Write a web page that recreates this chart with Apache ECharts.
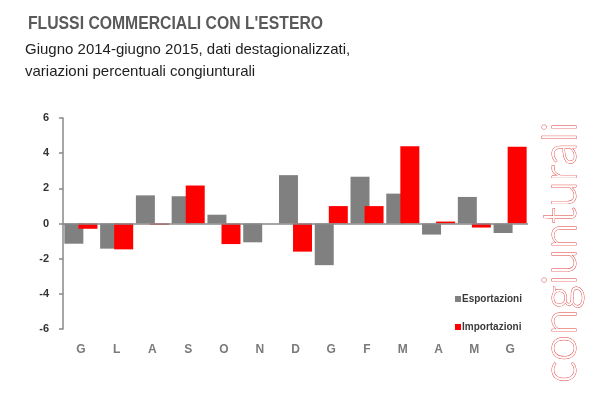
<!DOCTYPE html>
<html>
<head>
<meta charset="utf-8">
<script src="https://cdn.jsdelivr.net/npm/echarts@6/dist/echarts.min.js"></script>
<style>html,body{margin:0;padding:0;background:#fff;}#c{width:600px;height:398px;}</style>
</head>
<body>
<div id="c"></div>
<script>
var categories = ['G','L','A','S','O','N','D','G','F','M','A','M','G'];
var esportazioni = [-1.15, -1.43, 1.6, 1.55, 0.5, -1.07, 2.75, -2.37, 2.66, 1.7, -0.63, 1.51, -0.54];
var importazioni = [-0.3, -1.47, -0.07, 2.16, -1.17, 0, -1.6, 0.99, 0.99, 4.4, 0.11, -0.23, 4.36];
var yTicks = {min: -6, max: 6, interval: 2};
var seriesNames = ['Esportazioni', 'Importazioni'];

var chart = echarts.init(document.getElementById('c'), null, {renderer: 'canvas'});
chart.setOption({
  backgroundColor: '#fff',
  animation: false,
  grid: {left: 63, right: 72, top: 118, bottom: 69, containLabel: false},
  legend: {
    orient: 'vertical', left: 455, top: 294, padding: 0,
    itemWidth: 6, itemHeight: 6, itemGap: 18, icon: 'rect',
    textStyle: {fontFamily: 'Liberation Sans, Arial', fontSize: 10, fontWeight: 'bold', color: '#3a3a3a', lineHeight: 10, padding: [0,0,0,-4]},
    data: seriesNames
  },
  xAxis: {
    type: 'category', data: categories,
    axisLine: {show: false}, axisTick: {show: false},
    axisLabel: {fontFamily: 'Liberation Sans, Arial', fontSize: 12, fontWeight: 'bold', color: '#7a7a7a', margin: 15}
  },
  yAxis: {
    type: 'value', min: yTicks.min, max: yTicks.max, interval: yTicks.interval,
    axisLine: {show: true, lineStyle: {color: '#888', width: 1.5}},
    axisTick: {show: true, length: 4, lineStyle: {color: '#888', width: 1.5}},
    splitLine: {show: false},
    axisLabel: {fontFamily: 'Liberation Sans, Arial', fontSize: 11, fontWeight: 'bold', color: '#333', margin: 14}
  },
  series: [
    {name: seriesNames[0], type: 'bar', data: esportazioni, barWidth: 19, barGap: '-26%', itemStyle: {color: '#808080'}},
    {name: seriesNames[1], type: 'bar', data: importazioni, barWidth: 19, itemStyle: {color: '#ff0000'},
     markLine: {silent: true, symbol: 'none', label: {show: false}, lineStyle: {color: '#888', width: 1.5, type: 'solid'}, data: [{yAxis: 0}]}}
  ],
  graphic: [
    {type: 'text', x: 28, y: 15, scaleX: 0.875, style: {text: "FLUSSI COMMERCIALI CON L'ESTERO", fontFamily: 'Liberation Sans, Arial', fontSize: 18, fontWeight: 'bold', fill: '#5a5a5a', textVerticalAlign: 'top'}},
    {type: 'text', x: 25, y: 42, style: {text: 'Giugno 2014-giugno 2015, dati destagionalizzati,', fontFamily: 'Liberation Sans, Arial', fontSize: 15, fill: '#1e1e1e', textVerticalAlign: 'top'}},
    {type: 'text', x: 25, y: 64, style: {text: 'variazioni percentuali congiunturali', fontFamily: 'Liberation Sans, Arial', fontSize: 15, fill: '#1e1e1e', textVerticalAlign: 'top'}},
    {type: 'text', x: 584, y: 383, rotation: Math.PI / 2, style: {text: 'congiunturali', fontFamily: 'Lato', fontSize: 47, fontWeight: 300, fill: '#fff', stroke: '#e23a3a', lineWidth: 0.9, textAlign: 'left', textVerticalAlign: 'bottom'}}
  ]
});
</script>
</body>
</html>
